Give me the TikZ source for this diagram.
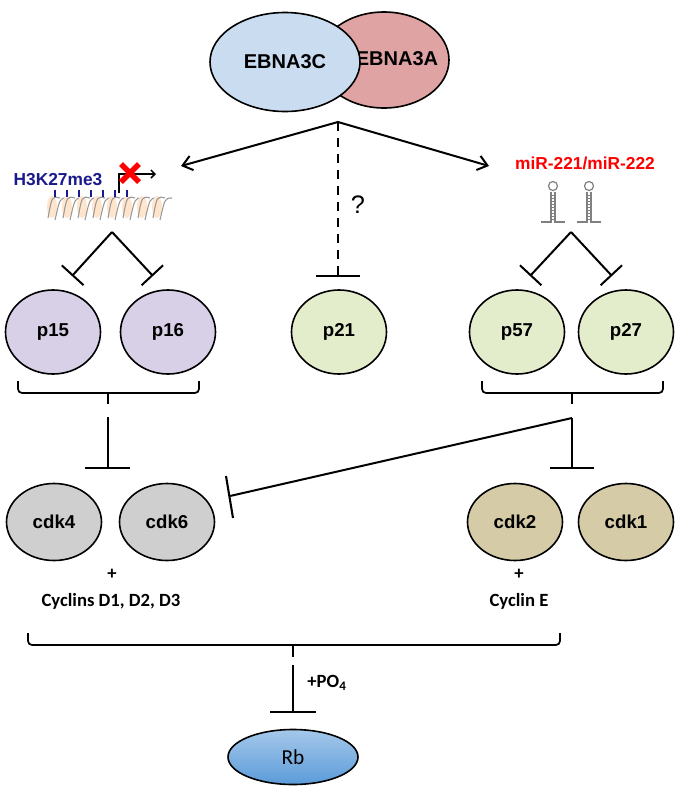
\documentclass[tikz,border=0pt]{standalone}
\usepackage{fontspec}
\setmainfont{Liberation Sans}
\newfontfamily\calib{Carlito}
\usetikzlibrary{arrows.meta,shapes.geometric}
\definecolor{pblue}{HTML}{C9DCF0}
\definecolor{ppink}{HTML}{E0A3A3}
\definecolor{ppurp}{HTML}{D8D0E6}
\definecolor{pgreen}{HTML}{E3ECCB}
\definecolor{pgray}{HTML}{CFCFCF}
\definecolor{ptan}{HTML}{D5CBA6}
\definecolor{rbblue}{HTML}{5B9BD9}
\definecolor{navy}{HTML}{1A1A8C}
\begin{document}
\begin{tikzpicture}[x=0.75pt,y=-0.75pt,
  line width=1.5pt,
  prot/.style={ellipse,draw=black,line width=1.2pt,minimum width=95*0.75pt,minimum height=84*0.75pt,font=\bfseries\fontsize{14}{16}\selectfont},
  cdk/.style={prot,minimum width=95*0.75pt,minimum height=77*0.75pt},
  arr/.style={-{Straight Barb[length=7pt,width=11pt]}},
  inh/.style={-{Bar[width=22pt]}},
  lbl/.style={font=\calib\bfseries\fontsize{14}{16}\selectfont},
  brace/.style={rounded corners=3pt,line width=1.3pt}]
\fill[white] (0,0) rectangle (682,800);
\useasboundingbox (0,0) rectangle (682,800);
% EBNA
\node[ellipse,draw,line width=1.2pt,fill=ppink,minimum width=130*0.75pt,minimum height=96*0.75pt] (a) at (384,60) {};
\node[font=\bfseries\fontsize{15}{17}\selectfont] at (397,59) {EBNA3A};
\node[ellipse,draw,line width=1.2pt,fill=pblue,minimum width=150*0.75pt,minimum height=99*0.75pt,font=\bfseries\fontsize{15}{17}\selectfont] (c) at (285,62) {EBNA3C};
\coordinate (hub) at (338,122);
\coordinate (la) at (181,166);
\coordinate (ra) at (489,166);
\draw[arr] (hub) -- (la);
\draw[arr] (hub) -- (ra);
\draw[dashed,dash pattern=on 7pt off 5pt,line width=1.4pt] (hub) -- (338,275);
\draw[line width=1.6pt] (316,276) -- (360,276);
\node[font=\fontsize{19}{21}\selectfont] (q) at (358,205) {?};
% H3K27me3 + nucleosomes
\node[text=navy,font=\bfseries\fontsize{13}{15}\selectfont] (h3) at (58,180) {H3K27me3};
\foreach \i in {0,...,7}{
  \fill[orange!20] (52+\i*15,207) ellipse (5pt*0.75 and 11pt*0.75);
  \draw[gray!80,line width=0.8pt] (48+\i*15,218) .. controls (52+\i*15,196) .. (60+\i*15,198);
  \draw[gray!80,line width=0.8pt] (55+\i*15,220) .. controls (60+\i*15,198) .. (67+\i*15,198);
}
\foreach \i in {0,...,6}{\draw[navy,line width=0.9pt] (55+\i*12,190) -- (55+\i*12,197);}
\draw[line width=1.1pt,-{Straight Barb[length=3pt,width=6pt]}] (119,193) -- (119,174) -- (156,174);
\coordinate (x) at (130,173);
\draw[red,line width=4pt] (121,164) -- (139,182) (139,164) -- (121,182);
% miR
\node[text=red,font=\bfseries\fontsize{13}{15}\selectfont] (mir) at (585,163) {miR-221/miR-222};
\foreach \xx in {553,589}{
  \draw[gray,line width=0.9pt] (\xx,186) circle (4.5pt*0.75);
  \draw[gray,line width=0.8pt] (\xx-2,192) -- (\xx-2,222) -- (\xx-12,222) (\xx+2,192) -- (\xx+2,222) -- (\xx+12,222);
  \foreach \yy in {195,198,...,219}{\draw[gray,line width=0.5pt] (\xx-2,\yy) -- (\xx+2,\yy);}
}
% inverted Vs
\coordinate (lv) at (112,232);
\coordinate (rv) at (571,232);
\draw[inh] (lv) -- (72,276);
\draw[inh] (lv) -- (153,276);
\draw[inh] (rv) -- (530,276);
\draw[inh] (rv) -- (612,276);
% proteins
\node[prot,fill=ppurp] (p15) at (53,332) {p15};
\node[prot,fill=ppurp] (p16) at (168,332) {p16};
\node[prot,fill=pgreen] (p21) at (339,332) {p21};
\node[prot,fill=pgreen] (p57) at (517,332) {p57};
\node[prot,fill=pgreen] (p27) at (626,332) {p27};
% braces
\draw[brace] (18,381) -- (18,393) -- (199,393) -- (199,381);
\draw[line width=1.3pt] (108,393) -- (108,404);
\draw[brace] (482,381) -- (482,393) -- (663,393) -- (663,381);
\draw[line width=1.3pt] (572,393) -- (572,404);
\coordinate (lb) at (108,417);
\coordinate (rb) at (572,418);
\draw (lb) -- (108,468);
\draw[line width=1.6pt] (85,468) -- (130,468);
\draw (rb) -- (572,468);
\draw[line width=1.6pt] (550,468) -- (594,468);
\draw (rb) -- (230,496);
\draw[line width=1.6pt] (226,476) -- (233,518);
% cdks
\node[cdk,fill=pgray] (cdk4) at (54,522) {cdk4};
\node[cdk,fill=pgray] (cdk6) at (167,522) {cdk6};
\node[cdk,fill=ptan] (cdk2) at (515,522) {cdk2};
\node[cdk,fill=ptan] (cdk1) at (626,522) {cdk1};
\node[lbl] at (112,574) {+};
\node[lbl] at (111,601) {Cyclins D1, D2, D3};
\node[lbl] at (519,574) {+};
\node[lbl] at (519,601) {Cyclin E};
% big brace
\draw[brace] (28,633) -- (28,645) -- (560,645) -- (560,633);
\draw[line width=1.3pt] (293,645) -- (293,657);
\draw (293,665) -- (293,712);
\draw[line width=1.6pt] (270,712) -- (316,712);
\node[lbl,anchor=west] at (302,683) {+PO\textsubscript{4}};
\node[ellipse,draw,line width=1.2pt,top color=rbblue!55,bottom color=rbblue,minimum width=130*0.75pt,minimum height=55*0.75pt,font=\calib\fontsize{16}{18}\selectfont] (rbn) at (293,757) {Rb};
\end{tikzpicture}
\end{document}
